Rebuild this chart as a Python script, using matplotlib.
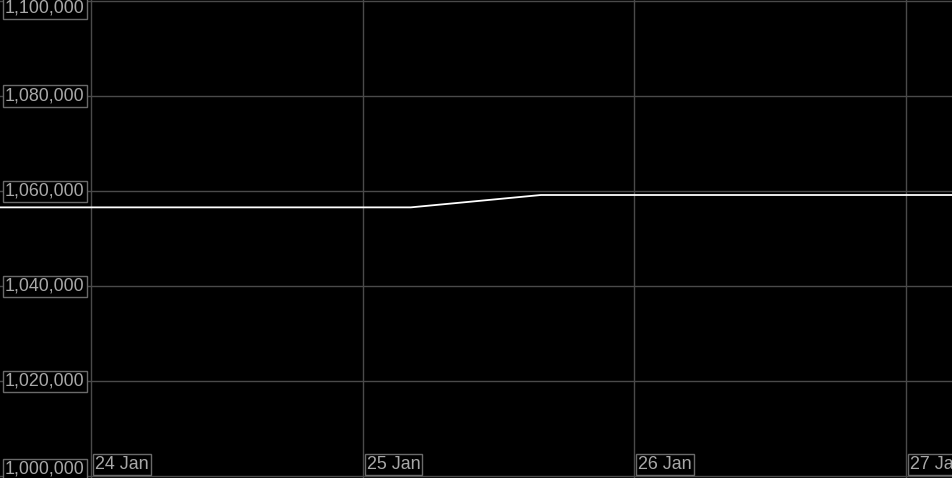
import matplotlib
matplotlib.use('Agg')
import matplotlib.pyplot as plt
import matplotlib.dates as mdates
import matplotlib.transforms as mtransforms
from datetime import datetime

# series (time, value)
times = [datetime(2021, 1, 23, 16, 0), datetime(2021, 1, 25, 4, 15),
         datetime(2021, 1, 25, 15, 45), datetime(2021, 1, 27, 4, 15)]
values = [1056600, 1056600, 1059200, 1059200]

y_ticks = [1000000, 1020000, 1040000, 1060000, 1080000, 1100000]
x_ticks = [datetime(2021, 1, 24), datetime(2021, 1, 25), datetime(2021, 1, 26), datetime(2021, 1, 27)]
x_labels = ['24 Jan', '25 Jan', '26 Jan', '27 Jan']

fig = plt.figure(figsize=(9.53, 4.78), dpi=100, facecolor='black')
ax = fig.add_axes([0, 0, 1, 1], facecolor='black')

ax.plot(times, values, color='white', lw=1.3, zorder=3)

x0 = mdates.date2num(x_ticks[0])
day_px = 271.67
ax.set_xlim(x0 - 91 / day_px, x0 + 3 + 47 / day_px)
ax.set_ylim(1000000 - 1.5 * 100000 / 475, 1100000 + 1 * 100000 / 475)

ax.set_xticks(x_ticks)
ax.set_yticks(y_ticks)
ax.tick_params(length=0, labelbottom=False, labelleft=False)
ax.grid(True, color='#4a4a4a', lw=1)
for s in ['top', 'right', 'left']:
    ax.spines[s].set_visible(False)
ax.spines['bottom'].set_color('#4a4a4a')

box = dict(boxstyle='square,pad=0.12', fc='black', ec='#6a6a6a', lw=1)
font = dict(family=['Liberation Sans', 'DejaVu Sans'], size=12.9, color='#a8a8a8')

# y labels, boxed, on the left edge (clamped inside the figure)
for v in y_ticks:
    off = 0
    if v == y_ticks[-1]:
        off = -7
    elif v == y_ticks[0]:
        off = 7
    tr = mtransforms.offset_copy(ax.get_yaxis_transform(), fig=fig, x=5, y=off, units='dots')
    ax.text(0, v, f'{v:,}', transform=tr, ha='left', va='center', bbox=box, zorder=5, **font)

# x labels, boxed, at the bottom right of each gridline
for t, lab in zip(x_ticks, x_labels):
    tr = mtransforms.offset_copy(ax.get_xaxis_transform(), fig=fig, x=4, y=5, units='dots')
    ax.text(mdates.date2num(t), 0, lab, transform=tr, ha='left', va='bottom', bbox=box, zorder=5, **font)

fig.savefig('out.png', dpi=100, facecolor='black')
